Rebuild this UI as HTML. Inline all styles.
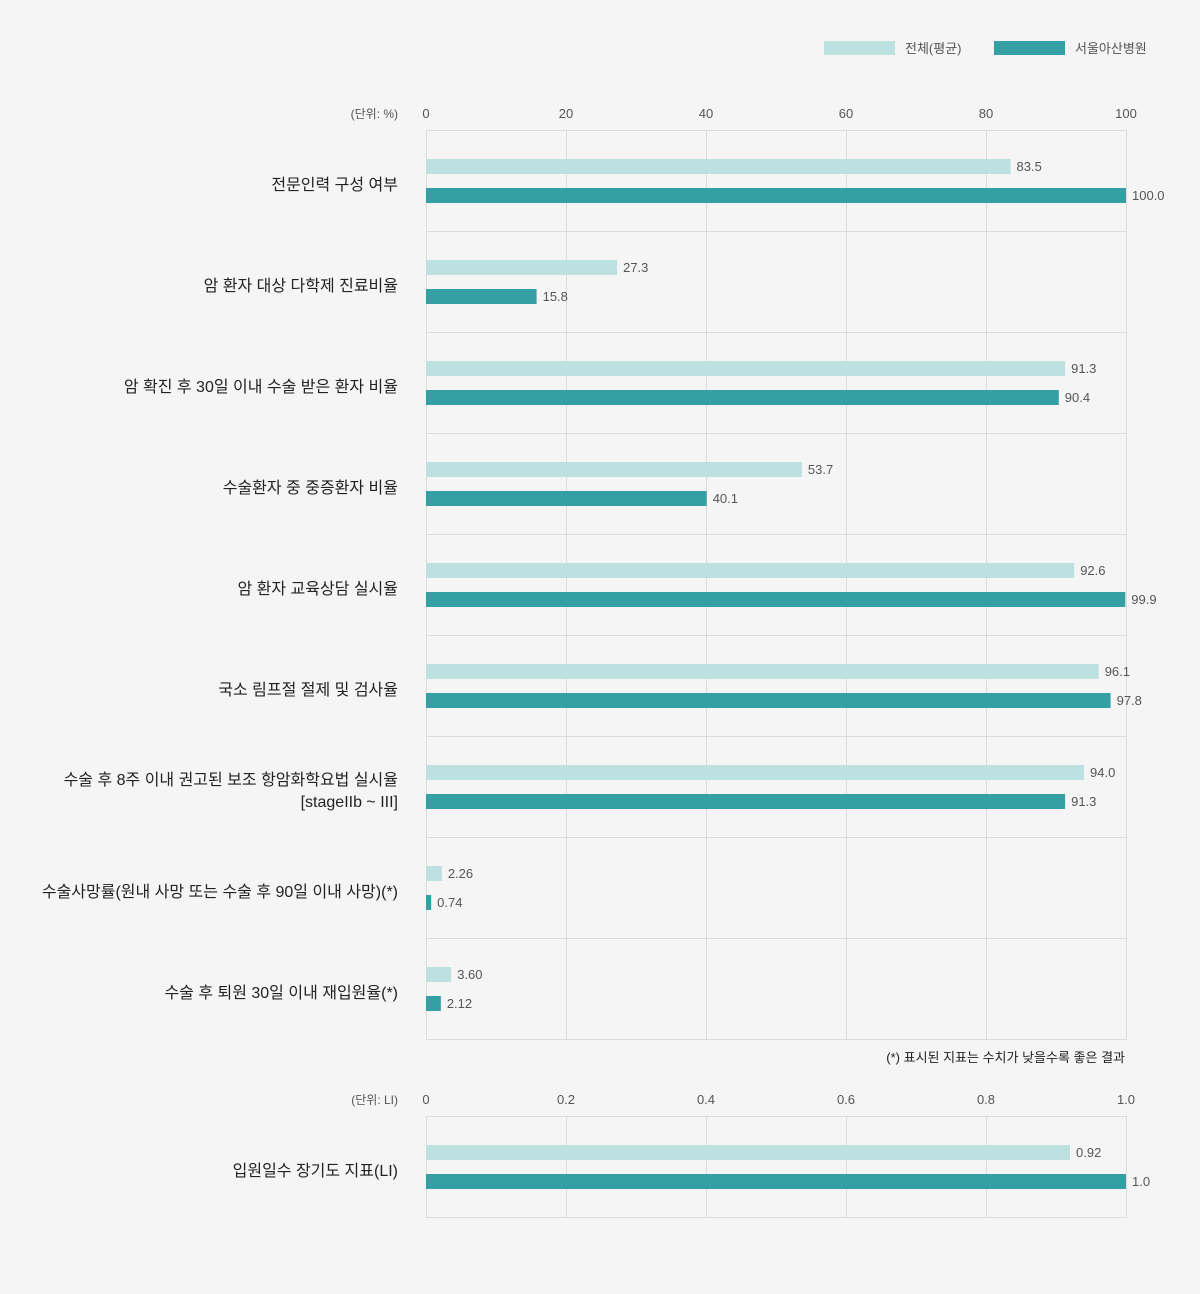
<!DOCTYPE html>
<html><head><meta charset="utf-8">
<style>
html,body{margin:0;padding:0;background:#f5f5f5;}
body{width:1200px;height:1289px;overflow:hidden;font-family:"Liberation Sans","Noto Sans CJK KR",sans-serif;}
svg text{font-family:"Liberation Sans","Noto Sans CJK KR",sans-serif;}
</style></head>
<body>
<svg id="chart" width="1200" height="1289" xmlns="http://www.w3.org/2000/svg">
  <g>
    <rect x="824" y="41" width="71" height="14" fill="#bde0e1"/>
    <text x="905" y="53" font-size="13" fill="#555">전체(평균)</text>
    <rect x="994" y="41" width="71" height="14" fill="#35a0a3"/>
    <text x="1075" y="53" font-size="13" fill="#555">서울아산병원</text>
  </g>
</svg>
<script>
const categories = ["전문인력 구성 여부","암 환자 대상 다학제 진료비율","암 확진 후 30일 이내 수술 받은 환자 비율","수술환자 중 중증환자 비율","암 환자 교육상담 실시율","국소 림프절 절제 및 검사율","수술 후 8주 이내 권고된 보조 항암화학요법 실시율\n[stageIIb ~ III]","수술사망률(원내 사망 또는 수술 후 90일 이내 사망)(*)","수술 후 퇴원 30일 이내 재입원율(*)"];
const averageValues = [83.5,27.3,91.3,53.7,92.6,96.1,94.0,2.26,3.60];
const amcValues = [100.0,15.8,90.4,40.1,99.9,97.8,91.3,0.74,2.12];
const averageLabels = ["83.5","27.3","91.3","53.7","92.6","96.1","94.0","2.26","3.60"];
const amcLabels = ["100.0","15.8","90.4","40.1","99.9","97.8","91.3","0.74","2.12"];
const ticks1 = [0,20,40,60,80,100];
const tickLabels1 = ["0","20","40","60","80","100"];
const categories2 = ["입원일수 장기도 지표(LI)"];
const averageValues2 = [0.92];
const amcValues2 = [1.0];
const averageLabels2 = ["0.92"];
const amcLabels2 = ["1.0"];
const ticks2 = [0,0.2,0.4,0.6,0.8,1.0];
const tickLabels2 = ["0","0.2","0.4","0.6","0.8","1.0"];

const svg = document.getElementById('chart');
const NS = 'http://www.w3.org/2000/svg';
function mk(tag, attrs, parent){const e=document.createElementNS(NS,tag);for(const k in attrs)e.setAttribute(k,attrs[k]);(parent||svg).appendChild(e);return e;}

function drawChart(cfg){
  const L=426,W=700,top=cfg.top,rowH=101;
  const n=cfg.cats.length,bottom=top+rowH*n;
  const x=v=>L+v/cfg.max*W;
  const g=mk('g',{});
  
  
  const frame=mk('rect',{x:L+0.5,y:top+0.5,width:W,height:bottom-top,fill:'none',stroke:'#dcdcdc'},g);
  
  
  cfg.ticks.forEach((t,i)=>{
    if(i>0&&i<cfg.ticks.length-1){
      const gl=mk('line',{x1:Math.round(x(t))+0.5,x2:Math.round(x(t))+0.5,y1:top,y2:bottom,stroke:'#dcdcdc'},g);
      
      
    }
    const tl=mk('text',{x:x(t),y:top-12,'font-size':13,fill:'#555','text-anchor':'middle'},g);
    tl.textContent=cfg.tickLabels[i];
    
    
  });
  const u=mk('text',{x:398,y:top-12,'font-size':12,fill:'#555','text-anchor':'end'},g);
  u.textContent=cfg.unit;
  
  
  cfg.cats.forEach((c,i)=>{
    const y0=top+rowH*i;
    if(i>0){
      const sep=mk('line',{x1:L,x2:L+W,y1:y0+0.5,y2:y0+0.5,stroke:'#dcdcdc'},g);
      
      
    }
    const lines=c.split('\n');
    lines.forEach((ln,j)=>{
      const t=mk('text',{x:398,y:y0+60+(j-(lines.length-1)/2)*22,'font-size':16,fill:'#222','text-anchor':'end'},g);
      t.textContent=ln;
      
      
    });
    const a=cfg.avg[i],b=cfg.amc[i];
    const r1=mk('rect',{x:L,y:y0+29,width:x(a)-L,height:15,fill:'#bde0e1'},g);
    
    
    const v1=mk('text',{x:x(a)+6,y:y0+41,'font-size':13,fill:'#555'},g);
    v1.textContent=cfg.avgL[i];
    
    
    const r2=mk('rect',{x:L,y:y0+58,width:x(b)-L,height:15,fill:'#35a0a3'},g);
    
    
    const v2=mk('text',{x:x(b)+6,y:y0+70,'font-size':13,fill:'#555'},g);
    v2.textContent=cfg.amcL[i];
    
    
  });
}
drawChart({name:'main-chart',top:130,max:100,cats:categories,avg:averageValues,amc:amcValues,avgL:averageLabels,amcL:amcLabels,ticks:ticks1,tickLabels:tickLabels1,unit:'(단위: %)'});
drawChart({name:'li-chart',top:1116,max:1.0,cats:categories2,avg:averageValues2,amc:amcValues2,avgL:averageLabels2,amcL:amcLabels2,ticks:ticks2,tickLabels:tickLabels2,unit:'(단위: LI)'});
const note=mk('text',{x:1125,y:1062,'font-size':13,fill:'#222','text-anchor':'end'});
note.textContent='(*) 표시된 지표는 수치가 낮을수록 좋은 결과';


</script>
</body></html>
